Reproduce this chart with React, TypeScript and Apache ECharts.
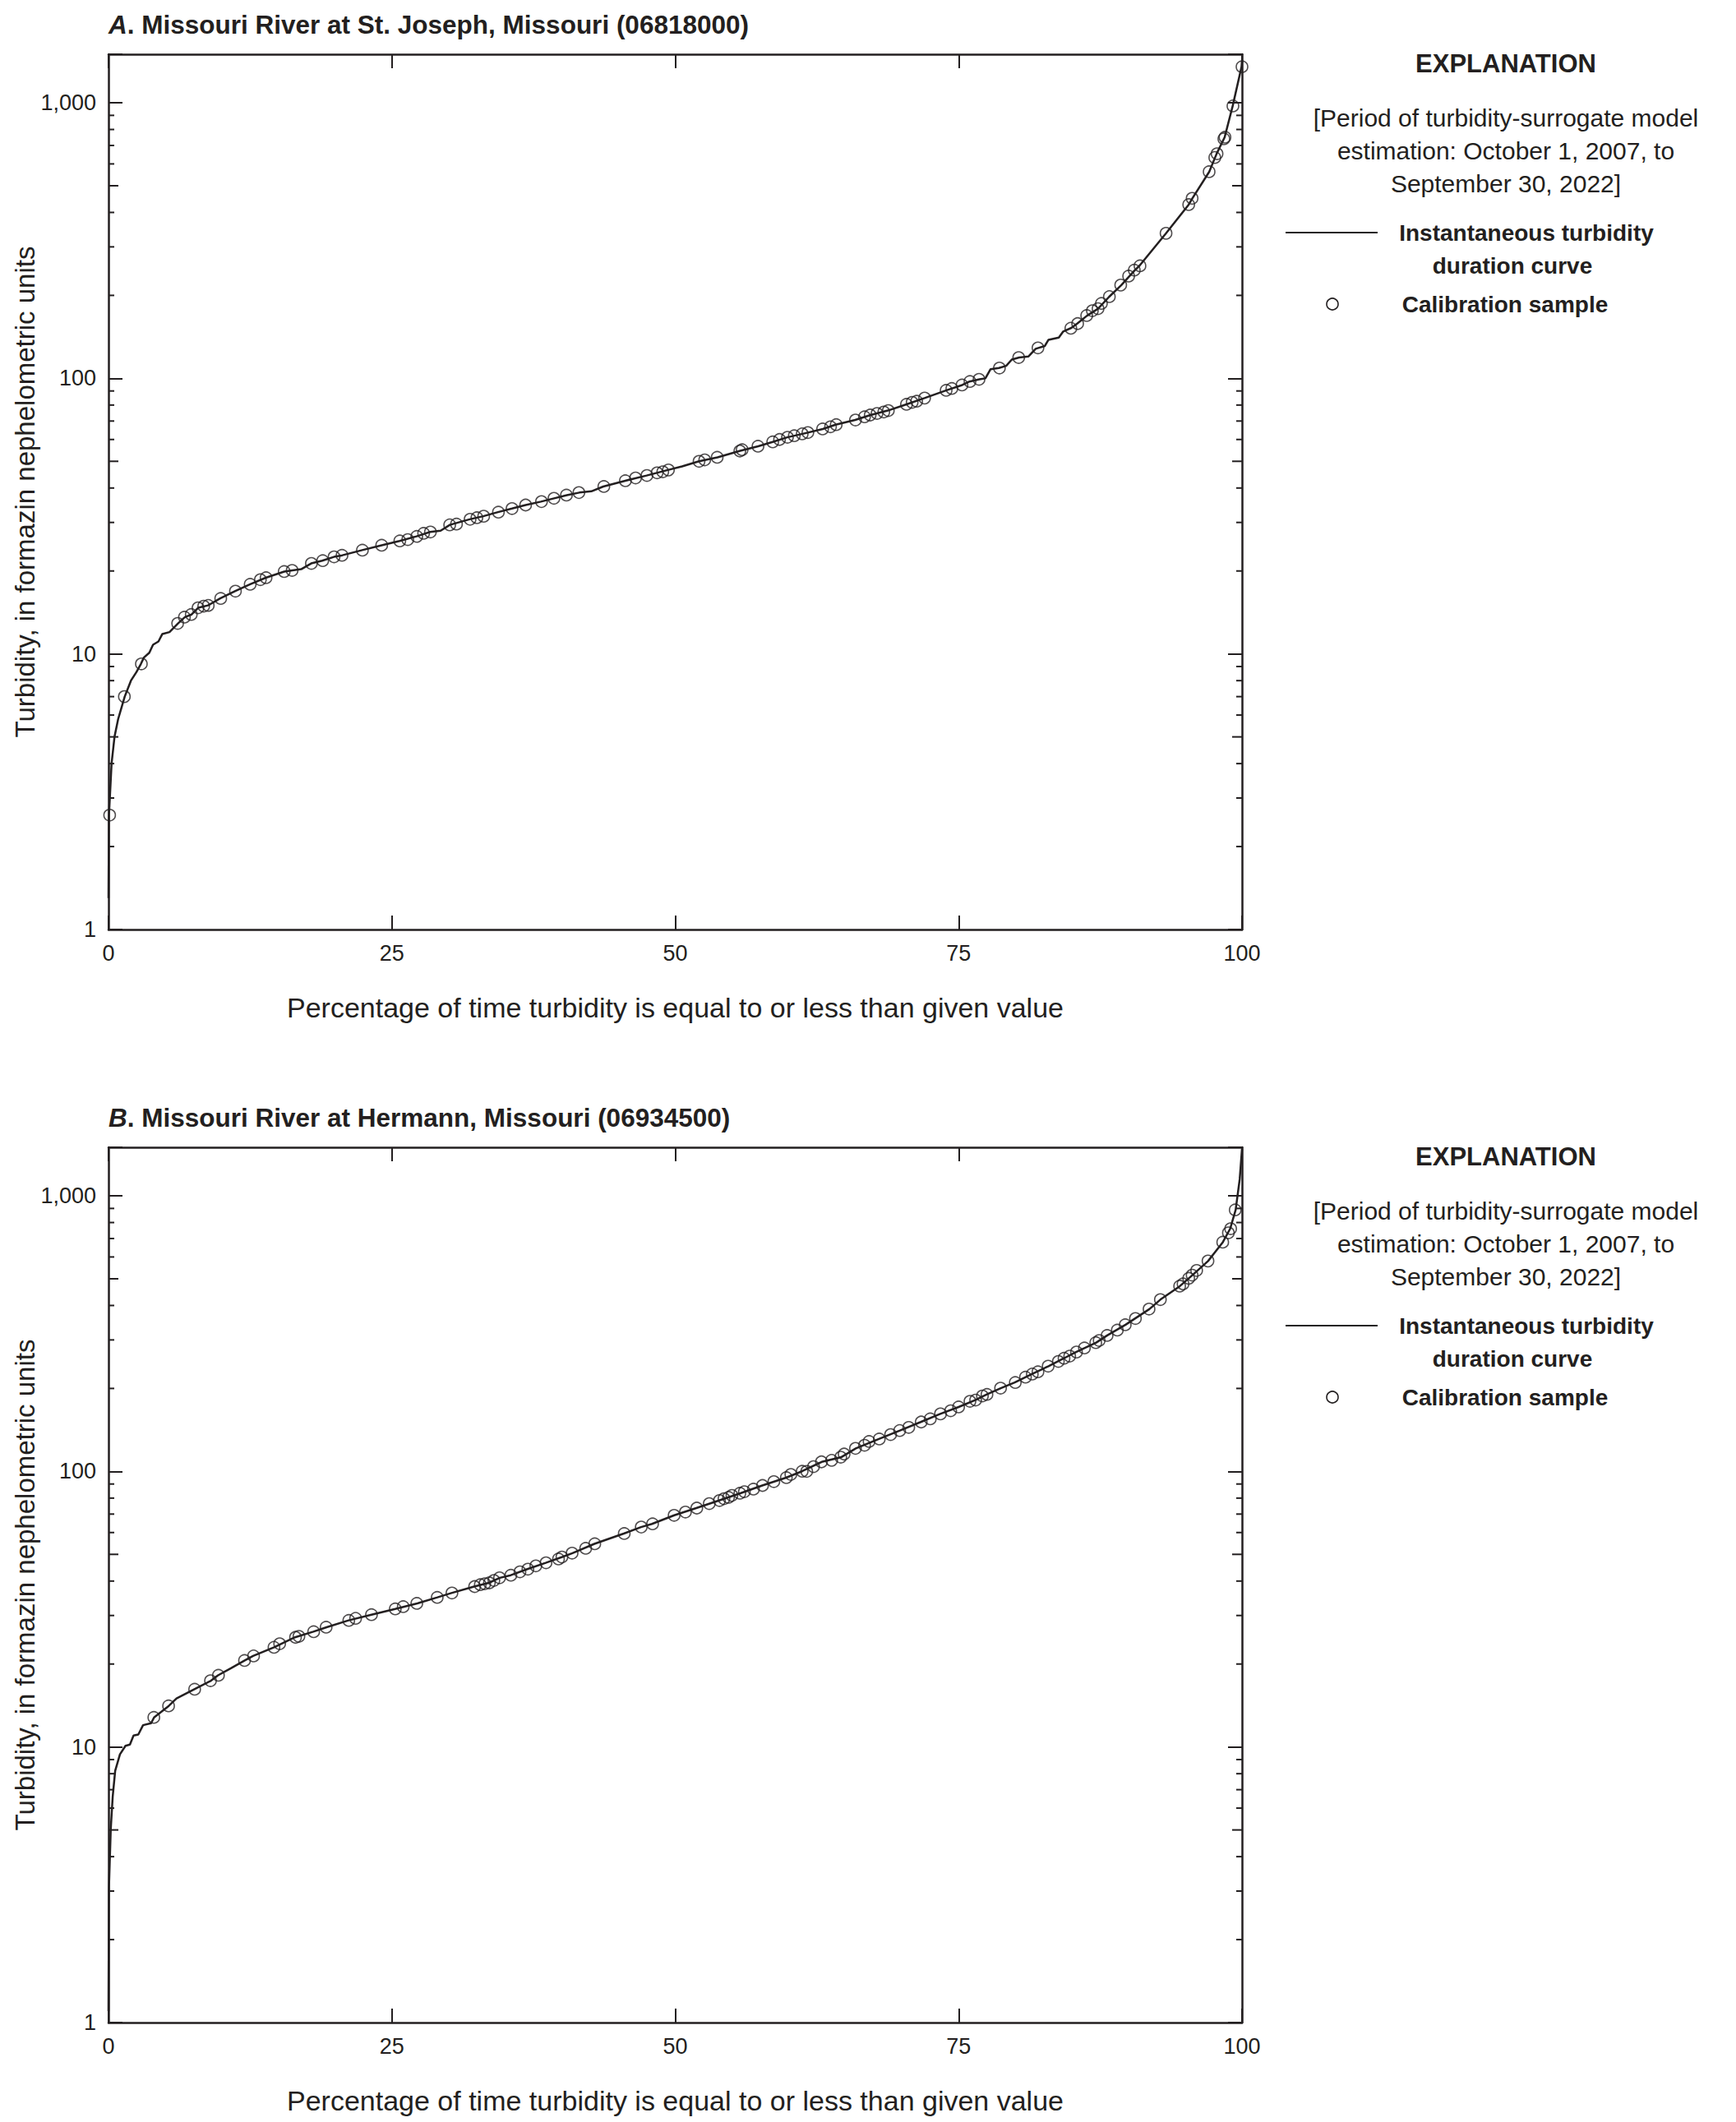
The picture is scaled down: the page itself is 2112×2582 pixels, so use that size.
import React, { useEffect, useRef } from "react";
import * as echarts from "echarts";

// ---------- DATA ----------
const xTicks = [0, 25, 50, 75, 100];
const yMajorTicks = [1, 10, 100, 1000];
const minorTickValues = [2, 3, 4, 5, 6, 7, 8, 9, 20, 30, 40, 50, 60, 70, 80, 90, 200, 300, 400, 500, 600, 700, 800, 900];

const titleA = "Missouri River at St. Joseph, Missouri (06818000)";
const titleB = "Missouri River at Hermann, Missouri (06934500)";
const xAxisTitle = "Percentage of time turbidity is equal to or less than given value";
const yAxisTitle = "Turbidity, in formazin nephelometric units";
const legendLines = ["[Period of turbidity-surrogate model", "estimation: October 1, 2007, to", "September 30, 2022]"];

// Panel A duration curve [percent, turbidity]
const curveA = [
  [0, 1.3], [0.04, 2.6], [0.27, 4.0], [0.53, 5.0], [0.85, 5.8], [1.43, 7.0], [1.98, 8.0], [2.47, 8.6], [2.86, 9.2],
  [3.12, 9.7], [3.6, 10.1], [3.93, 10.8], [4.41, 11.1], [4.74, 11.8], [5.38, 12.0], [6.13, 12.9], [6.74, 13.6],
  [7.33, 13.9], [7.91, 14.7], [8.78, 15.0], [9.85, 15.9], [11.15, 16.9], [12.5, 17.9], [13.87, 18.9], [15.5, 19.9],
  [16.23, 20.1], [17.0, 20.3], [17.88, 21.3], [18.85, 21.8], [19.89, 22.5], [20.63, 22.8], [22.38, 23.8], [24.1, 24.8],
  [25.68, 25.7], [27.17, 26.7], [28.37, 27.7], [29.3, 28.0], [30.12, 29.4], [31.86, 30.8], [33.06, 31.6], [34.36, 32.7],
  [35.6, 33.7], [36.8, 34.7], [38.15, 35.7], [39.31, 36.7], [40.44, 37.7], [41.54, 38.5], [42.6, 38.9], [43.65, 40.5],
  [45.59, 42.5], [47.47, 44.4], [49.35, 46.5], [50.6, 47.9], [52.1, 50.0], [53.73, 51.7], [55.67, 54.5], [57.32, 56.7],
  [58.59, 58.8], [59.88, 61.1], [61.24, 62.9], [63.02, 65.5], [64.15, 67.9], [65.87, 70.6], [67.23, 73.6], [68.75, 76.4],
  [70.4, 80.5], [71.99, 84.8], [73.93, 90.5], [75.32, 94.6], [75.97, 97.4], [76.84, 99.2], [77.36, 100], [77.82, 108],
  [78.56, 109], [79.2, 111], [79.69, 117], [80.34, 119], [81.15, 120], [81.8, 128], [82.6, 131], [82.93, 138],
  [83.84, 140.5], [84.23, 148], [84.94, 152.4], [85.46, 158], [86.33, 168.8], [87.3, 179], [88.27, 197.5],
  [89.34, 217.6], [90.54, 246.6], [90.96, 256.4], [93.29, 335.8], [95.3, 427], [95.62, 450], [97.11, 562],
  [97.76, 653], [98.47, 750], [99.18, 974], [99.96, 1351], [100, 1420],
];

// Panel A calibration samples
const samplesA = [
  [0.1, 2.6], [1.4, 7.0], [2.9, 9.2], [6.1, 12.9], [6.7, 13.6], [7.3, 13.9], [7.9, 14.7], [8.4, 14.9], [8.8, 15.0],
  [9.9, 15.9], [11.2, 16.9], [12.5, 17.9], [13.4, 18.6], [13.9, 18.9], [15.5, 19.9], [16.2, 20.1], [17.9, 21.3],
  [18.9, 21.8], [19.9, 22.5], [20.6, 22.8], [22.4, 23.8], [24.1, 24.8], [25.7, 25.7], [26.4, 26.0], [27.2, 26.7],
  [27.8, 27.4], [28.4, 27.7], [30.1, 29.4], [30.7, 29.6], [31.9, 30.8], [32.5, 31.2], [33.1, 31.6], [34.4, 32.7],
  [35.6, 33.7], [36.8, 34.7], [38.2, 35.7], [39.3, 36.7], [40.4, 37.7], [41.5, 38.5], [43.7, 40.5], [45.6, 42.5],
  [46.5, 43.5], [47.5, 44.4], [48.4, 45.4], [48.9, 45.8], [49.4, 46.5],
  [52.1, 50.0], [52.6, 50.6], [53.7, 51.7], [55.7, 54.5], [55.9, 55.1], [57.3, 56.7], [58.6, 58.8], [59.2, 60.0],
  [59.9, 61.1], [60.5, 61.9], [61.2, 62.9], [61.7, 63.6], [63.0, 65.5], [63.7, 66.7], [64.2, 67.9], [65.9, 70.6],
  [66.7, 72.5], [67.2, 73.6], [67.8, 74.6], [68.4, 75.5], [68.8, 76.4], [70.4, 80.5], [70.9, 81.8], [71.3, 82.6],
  [72.0, 84.8], [73.9, 90.5], [74.4, 91.9], [75.3, 94.6], [76.0, 97.4], [76.8, 99.2], [78.6, 109], [80.3, 119],
  [82.0, 129], [84.9, 152], [85.5, 158], [86.3, 169], [86.8, 176], [87.3, 179], [87.6, 187], [88.3, 198],
  [89.3, 218], [90.0, 235], [90.5, 247], [91.0, 256], [93.3, 336], [95.3, 427], [95.6, 450], [97.1, 562],
  [97.6, 633], [97.8, 653], [98.4, 740], [98.5, 750], [99.2, 974], [100, 1351],
];

// Panel B duration curve
const curveB = [
  [0, 1.1], [0.04, 3.1], [0.2, 5.05], [0.37, 6.6], [0.59, 8.2], [1.01, 9.4], [1.5, 10.1], [1.89, 10.2], [2.21, 11.0],
  [2.63, 11.1], [3.05, 12.0], [3.76, 12.2], [4.02, 12.8], [5.32, 14.1], [6.0, 15.0], [7.58, 16.2], [9.04, 17.4],
  [9.66, 18.2], [10.8, 19.3], [12.02, 20.6], [12.76, 21.4], [14.61, 23.0], [16.45, 25.0], [18.07, 26.2],
  [19.24, 27.2], [21.18, 28.8], [23.2, 30.2], [25.29, 31.7], [27.24, 33.2], [29.02, 34.9], [30.25, 36.2],
  [32.25, 38.2], [33.55, 39.4], [34.52, 41.1], [35.49, 42.0], [36.95, 44.2], [38.57, 46.6], [40.02, 48.9],
  [40.93, 50.5], [42.87, 54.6], [45.46, 59.5], [46.98, 62.8], [47.95, 64.5], [49.91, 69.3], [51.85, 73.6],
  [53.86, 78.4], [55.74, 83.3], [57.68, 88.9], [59.78, 94.9], [61.18, 100.1], [62.92, 108.3], [64.64, 112.6],
  [65.93, 121.2], [67.97, 131.1], [69.82, 140.7], [71.66, 151.1], [73.38, 161.7], [75.0, 171.3], [76.46, 181.5],
  [77.49, 190.3], [78.72, 200.5], [79.95, 210.2], [81.47, 225.6], [82.93, 240.9], [84.29, 257.3], [85.36, 271.1],
  [87.14, 293.3], [88.11, 311.5], [89.73, 340.6], [91.83, 388.2], [92.8, 420.1], [94.52, 470.2], [95.62, 515.4],
  [97.01, 580], [98.31, 679], [98.96, 760], [99.44, 889], [99.8, 1150], [100, 1480],
];

// Panel B calibration samples
const samplesB = [
  [4.0, 12.8], [5.3, 14.1], [7.6, 16.2], [9.0, 17.4], [9.7, 18.2], [12.0, 20.6], [12.8, 21.4], [14.6, 23.0],
  [15.1, 23.7], [16.5, 25.0], [16.8, 25.2], [18.1, 26.2], [19.2, 27.2], [21.2, 28.8], [21.8, 29.3], [23.2, 30.2],
  [25.3, 31.7], [26.0, 32.3], [27.2, 33.2], [29.0, 34.9], [30.3, 36.2], [32.3, 38.2], [32.8, 38.8], [33.2, 39.1],
  [33.6, 39.4], [34.0, 40.2], [34.5, 41.1], [35.5, 42.0], [36.3, 43.2], [37.0, 44.2], [37.7, 45.4], [38.6, 46.6],
  [39.7, 48.1], [40.0, 48.9], [40.9, 50.5], [42.1, 52.6], [42.9, 54.6], [45.5, 59.5], [47.0, 62.8], [48.0, 64.5],
  [49.9, 69.3], [50.9, 71.2], [51.9, 73.6], [53.0, 76.4], [53.9, 78.4], [54.3, 79.6], [54.7, 80.5], [55.0, 81.8],
  [55.7, 83.3], [56.1, 84.4], [56.9, 86.2], [57.7, 88.9], [58.7, 91.8], [59.8, 94.9], [60.2, 97.5], [61.2, 100.1],
  [61.6, 100], [62.2, 104.1], [62.9, 108.3], [63.8, 109.7], [64.6, 112.6], [64.9, 115.6], [65.9, 121.2],
  [66.7, 124.4], [67.1, 128.4], [68.0, 131.1], [69.0, 136], [69.8, 140.7], [70.6, 144.5], [71.7, 151.1],
  [72.5, 155.1], [73.4, 161.7], [74.3, 166], [75.0, 171.3], [76.0, 179.6], [76.5, 181.5], [77.1, 187.8],
  [77.5, 190.3], [78.7, 200.5], [80.0, 210.2], [80.9, 219.8], [81.5, 225.6], [82.0, 229.8], [82.9, 240.9],
  [83.8, 250.6], [84.3, 257.3], [84.8, 262], [85.4, 271.1], [86.1, 280.5], [87.1, 293.3], [87.4, 298.7],
  [88.1, 311.5], [89.0, 325.7], [89.7, 340.6], [90.6, 358.9], [91.8, 388.2], [92.8, 420.1], [94.5, 470.2],
  [94.8, 479], [95.3, 502], [95.6, 515.4], [96.0, 536], [97.0, 580], [98.3, 679], [98.8, 734], [99.0, 760],
  [99.4, 889],
];

// ---------- STYLE ----------
const INK = "#231f20";
const FONT = '"Liberation Sans", Arial, sans-serif';
const W = 2112;
const H = 2582;
const PANEL_OFFSET = 1330;
const GRID_LEFT = 132;
const GRID_TOP = 66;
const GRID_W = 1379;
const GRID_H = 1065;

function yLabel(v: number) {
  const r = Math.round(v);
  if (!yMajorTicks.includes(r) || Math.abs(v - r) > 0.01) return "";
  return r === 1000 ? "1,000" : String(r);
}

function buildOption() {
  const grids: any[] = [];
  const xAxes: any[] = [];
  const yAxes: any[] = [];
  const series: any[] = [];
  const graphics: any[] = [];
  const titles: any[] = [];
  const panels = [
    { letter: "A", title: titleA, curve: curveA, samples: samplesA },
    { letter: "B", title: titleB, curve: curveB, samples: samplesB },
  ];

  panels.forEach((p, i) => {
    const off = i * PANEL_OFFSET;
    grids.push({ left: GRID_LEFT, top: GRID_TOP + off, width: GRID_W, height: GRID_H, containLabel: false, outerBoundsMode: "none" });
    const axisLine = { show: true, onZero: false, lineStyle: { color: INK, width: 2.5 } };
    const tick = { show: true, inside: true, length: 17, lineStyle: { color: INK, width: 2 } };
    xAxes.push({
      gridIndex: i, type: "value", position: "bottom", min: 0, max: 100, interval: 25,
      axisLine, axisTick: tick, splitLine: { show: false },
      axisLabel: { color: INK, fontFamily: FONT, fontSize: 27, margin: 15,
        formatter: (v: number) => (xTicks.includes(v) ? String(v) : "") },
      name: xAxisTitle, nameLocation: "middle", nameGap: 78, nameMoveOverlap: false,
      nameTextStyle: { color: INK, fontFamily: FONT, fontSize: 34 },
    });
    xAxes.push({
      gridIndex: i, type: "value", position: "top", min: 0, max: 100, interval: 25,
      axisLine, axisTick: tick, splitLine: { show: false }, axisLabel: { show: false },
    });
    yAxes.push({
      gridIndex: i, type: "log", logBase: 10, position: "left", min: 1, max: 1500, interval: 1,
      axisLine, axisTick: tick, splitLine: { show: false },
      axisLabel: { color: INK, fontFamily: FONT, fontSize: 27, margin: 15, formatter: yLabel },
      name: yAxisTitle, nameLocation: "middle", nameGap: 85, nameRotate: 90, nameMoveOverlap: false,
      nameTextStyle: { color: INK, fontFamily: FONT, fontSize: 33 },
    });
    yAxes.push({
      gridIndex: i, type: "log", logBase: 10, position: "right", min: 1, max: 1500, interval: 1,
      axisLine, axisTick: tick, splitLine: { show: false }, axisLabel: { show: false },
    });

    series.push({
      type: "custom", xAxisIndex: i * 2, yAxisIndex: i * 2, silent: true, z: 1,
      data: minorTickValues.map((v) => [0, v]),
      renderItem: (params: any, api: any) => {
        const v = api.value(1);
        const pt = api.coord([0, v]);
        const cs = params.coordSys;
        const lead = String(Math.round(v))[0];
        const len = lead === "5" ? 12 : 7;
        const style = { stroke: INK, lineWidth: 2 };
        return {
          type: "group",
          children: [
            { type: "line", shape: { x1: cs.x, y1: pt[1], x2: cs.x + len, y2: pt[1] }, style },
            { type: "line", shape: { x1: cs.x + cs.width - len, y1: pt[1], x2: cs.x + cs.width, y2: pt[1] }, style },
          ],
        };
      },
    });
    series.push({
      type: "line", name: "Instantaneous turbidity duration curve", xAxisIndex: i * 2, yAxisIndex: i * 2,
      data: p.curve, showSymbol: false, symbol: "none", smooth: false, z: 2,
      lineStyle: { color: INK, width: 2.5 },
    });
    series.push({
      type: "scatter", name: "Calibration sample", xAxisIndex: i * 2, yAxisIndex: i * 2,
      data: p.samples, symbol: "circle", symbolSize: 14, z: 3,
      itemStyle: { color: "rgba(0,0,0,0)", borderColor: INK, borderWidth: 1.6 },
    });

    titles.push({
      text: `{i|${p.letter}}{b|. ${p.title}}`, left: GRID_LEFT, top: 14 + off, padding: 0,
      textStyle: {
        rich: {
          i: { fontFamily: FONT, fontSize: 31.5, fontWeight: "bold", fontStyle: "italic", color: INK },
          b: { fontFamily: FONT, fontSize: 31.5, fontWeight: "bold", color: INK },
        },
      },
    });

    const cx = 1832;
    graphics.push({
      type: "text", style: { text: "EXPLANATION", x: cx, y: 77 + off, textAlign: "center", textVerticalAlign: "middle",
        fill: INK, font: `bold 31px ${FONT}` },
    });
    legendLines.forEach((t, k) => {
      graphics.push({
        type: "text", style: { text: t, x: cx, y: 143 + off + k * 40, textAlign: "center", textVerticalAlign: "middle",
          fill: INK, font: `30px ${FONT}` },
      });
    });
    graphics.push({ type: "line", shape: { x1: 1564, y1: 283 + off, x2: 1676, y2: 283 + off }, style: { stroke: INK, lineWidth: 2 } });
    graphics.push({
      type: "text", style: { text: "Instantaneous turbidity", x: 1857, y: 283 + off, textAlign: "center", textVerticalAlign: "middle",
        fill: INK, font: `bold 28px ${FONT}` },
    });
    graphics.push({
      type: "text", style: { text: "duration curve", x: 1840, y: 323 + off, textAlign: "center", textVerticalAlign: "middle",
        fill: INK, font: `bold 28px ${FONT}` },
    });
    graphics.push({ type: "circle", shape: { cx: 1621, cy: 370 + off, r: 7 }, style: { fill: "none", stroke: INK, lineWidth: 1.6 } });
    graphics.push({
      type: "text", style: { text: "Calibration sample", x: 1831, y: 370 + off, textAlign: "center", textVerticalAlign: "middle",
        fill: INK, font: `bold 28px ${FONT}` },
    });
  });

  return {
    animation: false,
    backgroundColor: "#ffffff",
    title: titles,
    grid: grids,
    xAxis: xAxes,
    yAxis: yAxes,
    series,
    graphic: graphics,
  };
}

export default function App() {
  const ref = useRef<HTMLDivElement>(null);
  useEffect(() => {
    if (!ref.current) return;
    const chart = echarts.init(ref.current, undefined, { renderer: "svg", width: W, height: H });
    chart.setOption(buildOption() as any);
    return () => chart.dispose();
  }, []);
  return <div ref={ref} style={{ position: "absolute", left: 0, top: 0, width: W, height: H, background: "#fff" }} />;
}
